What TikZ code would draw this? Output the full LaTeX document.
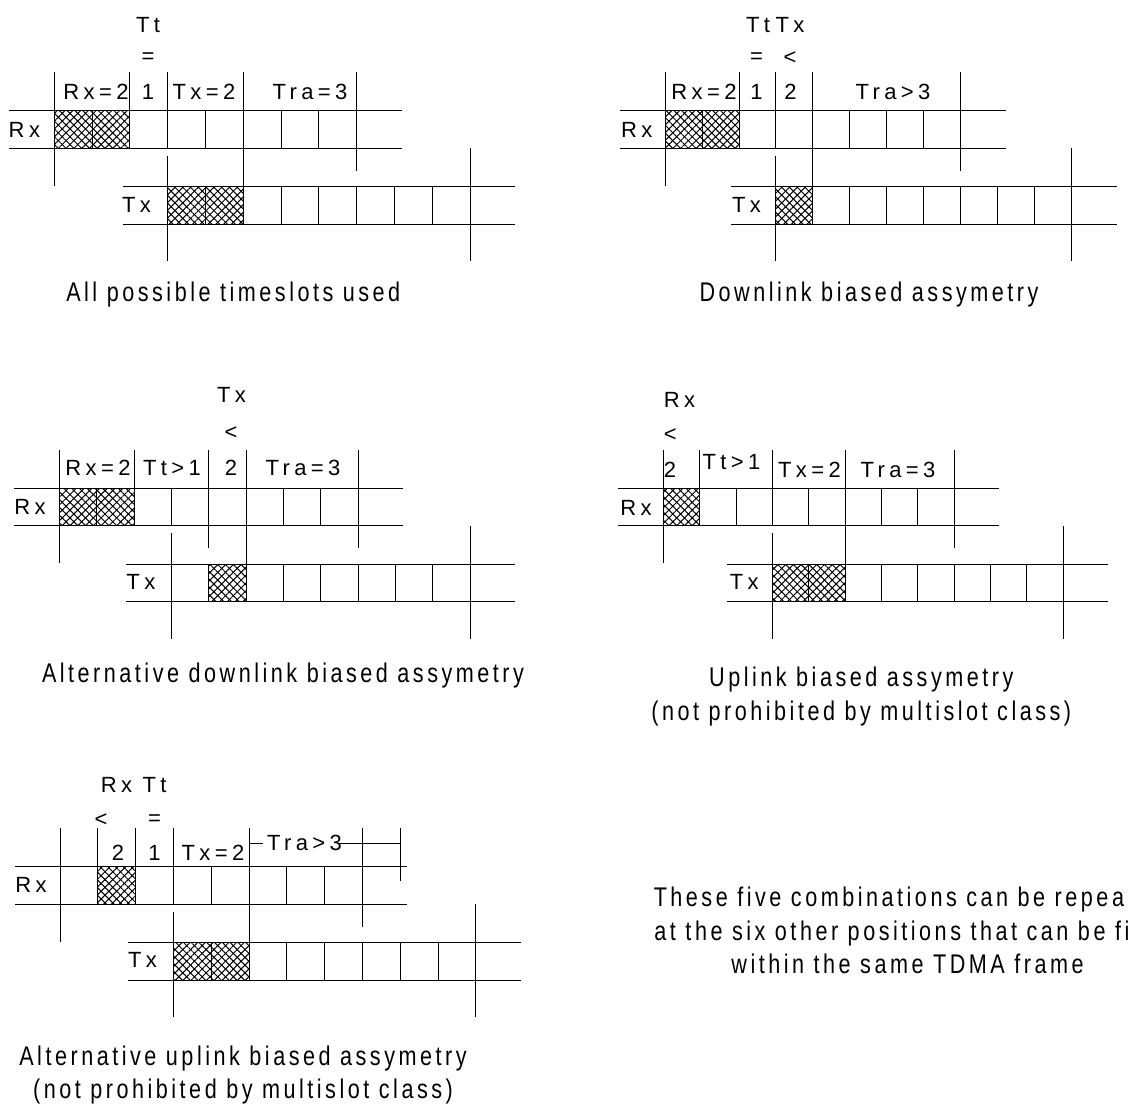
\documentclass[tikz,border=0pt]{standalone}
\usepackage{fontspec}
\setmainfont{Liberation Sans}
\newfontfamily\lblfont{Liberation Sans}[LetterSpace=20]
\newfontfamily\capfont{Liberation Sans}[FakeStretch=0.8,LetterSpace=13]
\usetikzlibrary{patterns.meta}

\begin{document}
\begin{tikzpicture}[x=1pt,y=-1pt,line width=0.9pt,
    lbl/.style={font=\lblfont\fontsize{22}{24}\selectfont,inner sep=0pt},
    captext/.style={font=\capfont\fontsize{27}{32}\selectfont,inner sep=0pt,anchor=base},
    hatch/.style={pattern={Lines[angle=45,distance=5.5pt,line width=1pt]},
        postaction={pattern={Lines[angle=-45,distance=5.5pt,line width=1pt]}}}]
    \useasboundingbox (0,0) rectangle (1134,1109);
    % Rx and Tx slot rows of the five cases
    \foreach \xo/\w/\yo in {54.3/37.79/110.7,665/36.97/110.7,59.3/37.34/488.3,663.3/36.36/488.3,60/37.8/866.7}{
        \draw (\xo-45,\yo) -- (\xo+8*\w+45,\yo) (\xo-45,\yo+37.6) -- (\xo+8*\w+45,\yo+37.6);
        \draw (\xo+3*\w-45,\yo+76) -- (\xo+11*\w+45,\yo+76) (\xo+3*\w-45,\yo+113.6) -- (\xo+11*\w+45,\yo+113.6);
        \foreach \k in {0,...,8} \draw (\xo+\k*\w,\yo) -- ++(0,37.6);
        \foreach \k in {3,...,11} \draw (\xo+\k*\w,\yo+76) -- ++(0,37.6);
        \draw (\xo,\yo-38.6) -- (\xo,\yo+75) (\xo+8*\w,\yo-38.6) -- (\xo+8*\w,\yo+60);
        \draw (\xo+3*\w,\yo+45) -- (\xo+3*\w,\yo+150.5) (\xo+11*\w,\yo+37.6) -- (\xo+11*\w,\yo+150.5);
    }

    % all possible timeslots used
    \pgfmathsetmacro{\xo}{54.3}\pgfmathsetmacro{\w}{37.79}\pgfmathsetmacro{\yo}{110.7}
    \path[hatch] (\xo,\yo) rectangle (\xo+2*\w,\yo+37.6) (\xo+3*\w,\yo+76) rectangle (\xo+5*\w,\yo+113.6);
    \draw (\xo+2*\w,\yo-38.6) -- (\xo+2*\w,\yo) (\xo+3*\w,\yo-38.6) -- (\xo+3*\w,\yo) (\xo+5*\w,\yo-38.6) -- (\xo+5*\w,\yo+76);
    \node[lbl] (tta) at (148,25) {Tt};
    \node[lbl] (eqa) at (148,58) {=};
    \node[lbl] (onea) at (148,92) {1};
    \node[lbl] (rxna) at (96,92) {Rx=2};
    \node[lbl] (txna) at (204,92) {Tx=2};
    \node[lbl] (traa) at (310,92) {Tra=3};
    \node[lbl,anchor=west] (rxa) at (8.3,130) {Rx};
    \node[lbl,anchor=west] (txa) at (121.7,205) {Tx};
    \node[captext] (capa) at (233.3,301.7) {All possible timeslots used};

    % downlink biased
    \pgfmathsetmacro{\xo}{665}\pgfmathsetmacro{\w}{36.97}\pgfmathsetmacro{\yo}{110.7}
    \path[hatch] (\xo,\yo) rectangle (\xo+2*\w,\yo+37.6) (\xo+3*\w,\yo+76) rectangle (\xo+4*\w,\yo+113.6);
    \draw (\xo+2*\w,\yo-38.6) -- (\xo+2*\w,\yo) (\xo+3*\w,\yo-38.6) -- (\xo+3*\w,\yo) (\xo+4*\w,\yo-38.6) -- (\xo+4*\w,\yo+76);
    \node[lbl] (ttb) at (758,25) {Tt};
    \node[lbl] (txtb) at (790,25) {Tx};
    \node[lbl] (eqb) at (756.5,58) {=};
    \node[lbl] (ltb) at (790,58) {<};
    \node[lbl] (oneb) at (756.5,92) {1};
    \node[lbl] (twob) at (790.5,92) {2};
    \node[lbl] (rxnb) at (704,92) {Rx=2};
    \node[lbl] (trab) at (893,92) {Tra>3};
    \node[lbl,anchor=west] (rxb) at (620.7,130) {Rx};
    \node[lbl,anchor=west] (txb) at (731.7,205) {Tx};
    \node[captext] (capb) at (869,301.7) {Downlink biased assymetry};

    % alternative downlink biased
    \pgfmathsetmacro{\xo}{59.3}\pgfmathsetmacro{\w}{37.34}\pgfmathsetmacro{\yo}{488.3}
    \path[hatch] (\xo,\yo) rectangle (\xo+2*\w,\yo+37.6) (\xo+4*\w,\yo+76) rectangle (\xo+5*\w,\yo+113.6);
    \draw (\xo+2*\w,\yo-38.6) -- (\xo+2*\w,\yo) (\xo+4*\w,\yo-38.6) -- (\xo+4*\w,\yo+60) (\xo+5*\w,\yo-38.6) -- (\xo+5*\w,\yo+76);
    \node[lbl] (txtc) at (231.5,395) {Tx};
    \node[lbl] (ltc) at (231,433.3) {<};
    \node[lbl] (twoc) at (231,468.3) {2};
    \node[lbl] (rxnc) at (98,468.3) {Rx=2};
    \node[lbl] (ttc) at (172,468.3) {Tt>1};
    \node[lbl] (trac) at (303,468.3) {Tra=3};
    \node[lbl,anchor=west] (rxc) at (14,506.7) {Rx};
    \node[lbl,anchor=west] (txc) at (126,581.7) {Tx};
    \node[captext] (capc) at (283,682) {Alternative downlink biased assymetry};

    % uplink biased
    \pgfmathsetmacro{\xo}{663.3}\pgfmathsetmacro{\w}{36.36}\pgfmathsetmacro{\yo}{488.3}
    \path[hatch] (\xo,\yo) rectangle (\xo+\w,\yo+37.6) (\xo+3*\w,\yo+76) rectangle (\xo+5*\w,\yo+113.6);
    \draw (\xo+\w,\yo-38.6) -- (\xo+\w,\yo) (\xo+3*\w,\yo-38.6) -- (\xo+3*\w,\yo) (\xo+5*\w,\yo-38.6) -- (\xo+5*\w,\yo+76);
    \node[lbl,anchor=west] (rxtd) at (663.3,400) {Rx};
    \node[lbl,anchor=west] (ltd) at (663.3,435) {<};
    \node[lbl,anchor=west] (twod) at (663.3,470) {2};
    \node[lbl] (ttd) at (731.5,461.7) {Tt>1};
    \node[lbl] (txnd) at (809.5,470) {Tx=2};
    \node[lbl] (trad) at (898,470) {Tra=3};
    \node[lbl,anchor=west] (rxd) at (620,508.3) {Rx};
    \node[lbl,anchor=west] (txd) at (729.3,581.7) {Tx};
    \node[captext] (capd) at (861.3,686.5) {Uplink biased assymetry};
    \node[captext] (notd) at (861.3,720) {(not prohibited by multislot class)};

    % alternative uplink biased
    \pgfmathsetmacro{\xo}{60}\pgfmathsetmacro{\w}{37.8}\pgfmathsetmacro{\yo}{866.7}
    \path[hatch] (\xo+\w,\yo) rectangle (\xo+2*\w,\yo+37.6) (\xo+3*\w,\yo+76) rectangle (\xo+5*\w,\yo+113.6);
    \draw (\xo+\w,\yo-38.6) -- (\xo+\w,\yo) (\xo+2*\w,\yo-38.6) -- (\xo+2*\w,\yo) (\xo+3*\w,\yo-38.6) -- (\xo+3*\w,\yo)
        (\xo+5*\w,\yo-38.6) -- (\xo+5*\w,\yo+76) (\xo+9*\w,\yo-38.6) -- (\xo+9*\w,\yo+14);
    \draw (\xo+5*\w,843.3) -- (263.3,843.3) (336.7,843.3) -- (\xo+9*\w,843.3);
    \node[lbl] (rxte) at (116.5,785) {Rx};
    \node[lbl] (tte) at (154.5,785) {Tt};
    \node[lbl] (lte) at (101,820) {<};
    \node[lbl] (eqe) at (154.5,820) {=};
    \node[lbl] (twoe) at (118,853) {2};
    \node[lbl] (onee) at (154.5,853) {1};
    \node[lbl] (txne) at (213,853) {Tx=2};
    \node[lbl] (trae) at (304.5,842.5) {Tra>3};
    \node[lbl,anchor=west] (rxe) at (15,885) {Rx};
    \node[lbl,anchor=west] (txe) at (127.7,960) {Tx};
    \node[captext] (cape) at (243,1065) {Alternative uplink biased assymetry};
    \node[captext] (note) at (243,1098) {(not prohibited by multislot class)};

    % note on the right, as far as the page shows it
    \node[captext,anchor=base west] (rema) at (653.3,906.7) {These five combinations can be repea};
    \node[captext,anchor=base west] (remb) at (654,940) {at the six other positions that can be fi};
    \node[captext] (remc) at (907.5,973.5) {within the same TDMA frame};
\end{tikzpicture}
\end{document}
